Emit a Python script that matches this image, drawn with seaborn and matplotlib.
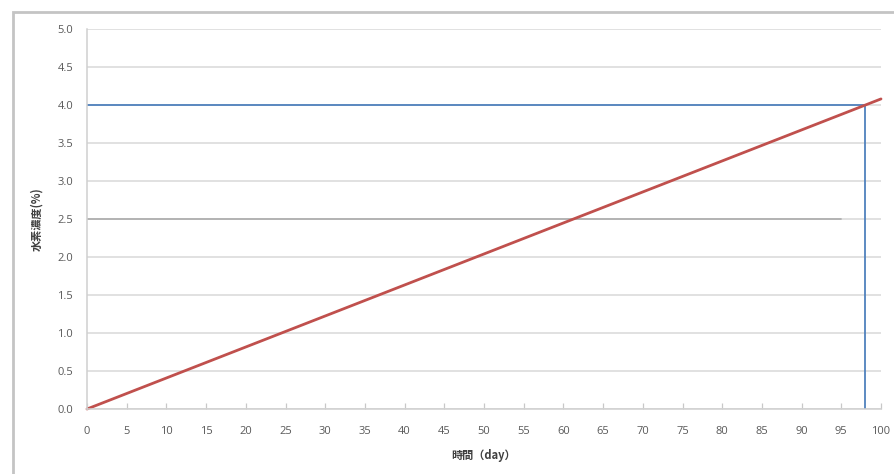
import matplotlib
matplotlib.use("Agg")
import matplotlib.pyplot as plt
import seaborn as sns
import pandas as pd
from matplotlib.patches import Rectangle

# Data
days = [0, 100]
h2_conc = [0.0, 4.08]
limit_x = [0, 98, 98]
limit_y = [4.0, 4.0, 0.0]
ref_x = [0, 95]
ref_y = [2.5, 2.5]
x_ticks = list(range(0, 101, 5))
y_ticks = [0.0, 0.5, 1.0, 1.5, 2.0, 2.5, 3.0, 3.5, 4.0, 4.5, 5.0]
x_label = "時間（day）"
y_label = "水素濃度(%)"

sns.set_theme(style="white")
plt.rcParams['font.family'] = ['Noto Sans CJK JP', 'DejaVu Sans']

fig = plt.figure(figsize=(8.94, 4.74), dpi=100)
ax = fig.add_axes([87/894, 1 - 409/474, (881-87)/894, (409-29)/474])

df_main = pd.DataFrame({"x": days, "y": h2_conc})
df_lim = pd.DataFrame({"x": limit_x, "y": limit_y})
df_ref = pd.DataFrame({"x": ref_x, "y": ref_y})

sns.lineplot(data=df_ref, x="x", y="y", sort=False, estimator=None, ax=ax, color="#B0B0B0", linewidth=1.3)
sns.lineplot(data=df_lim, x="x", y="y", sort=False, estimator=None, ax=ax, color="#4F81BD", linewidth=1.3)
sns.lineplot(data=df_main, x="x", y="y", sort=False, estimator=None, ax=ax, color="#C0504D", linewidth=2.0, clip_on=False)

ax.set_xlim(0, 100)
ax.set_ylim(0, 5.0)
ax.set_xticks(x_ticks)
ax.set_yticks(y_ticks)
ax.set_xticklabels([str(t) for t in x_ticks], family='Open Sans', fontsize=8, color="#595959")
ax.set_yticklabels([f"{t:.1f}" for t in y_ticks], family='Open Sans', fontsize=8, color="#595959")
ax.yaxis.grid(True, color="#D9D9D9", linewidth=1.1)
ax.xaxis.grid(False)
ax.set_axisbelow(True)
for s in ["top", "right"]:
    ax.spines[s].set_visible(False)
for s in ["left", "bottom"]:
    ax.spines[s].set_color("#D0D0D0")
    ax.spines[s].set_linewidth(1.1)
ax.tick_params(axis="x", direction="in", length=4, width=0.9, color="#C8C8C8", pad=12, bottom=True)
ax.tick_params(axis="y", length=0, pad=10)

ax.set_xlabel(x_label, fontsize=8, fontweight="bold", color="#404040", labelpad=9)
ax.set_ylabel(y_label, fontsize=8, fontweight="bold", color="#404040", labelpad=10)

# outer chart border (partially cut off)
fig.patches.append(Rectangle((13/894, -0.1), 1.2, 1 - 12/474 + 0.1, transform=fig.transFigure,
                             fill=False, edgecolor="#C4C4C4", linewidth=2.0, zorder=0))

fig.savefig("out.png", dpi=100, facecolor="white")
